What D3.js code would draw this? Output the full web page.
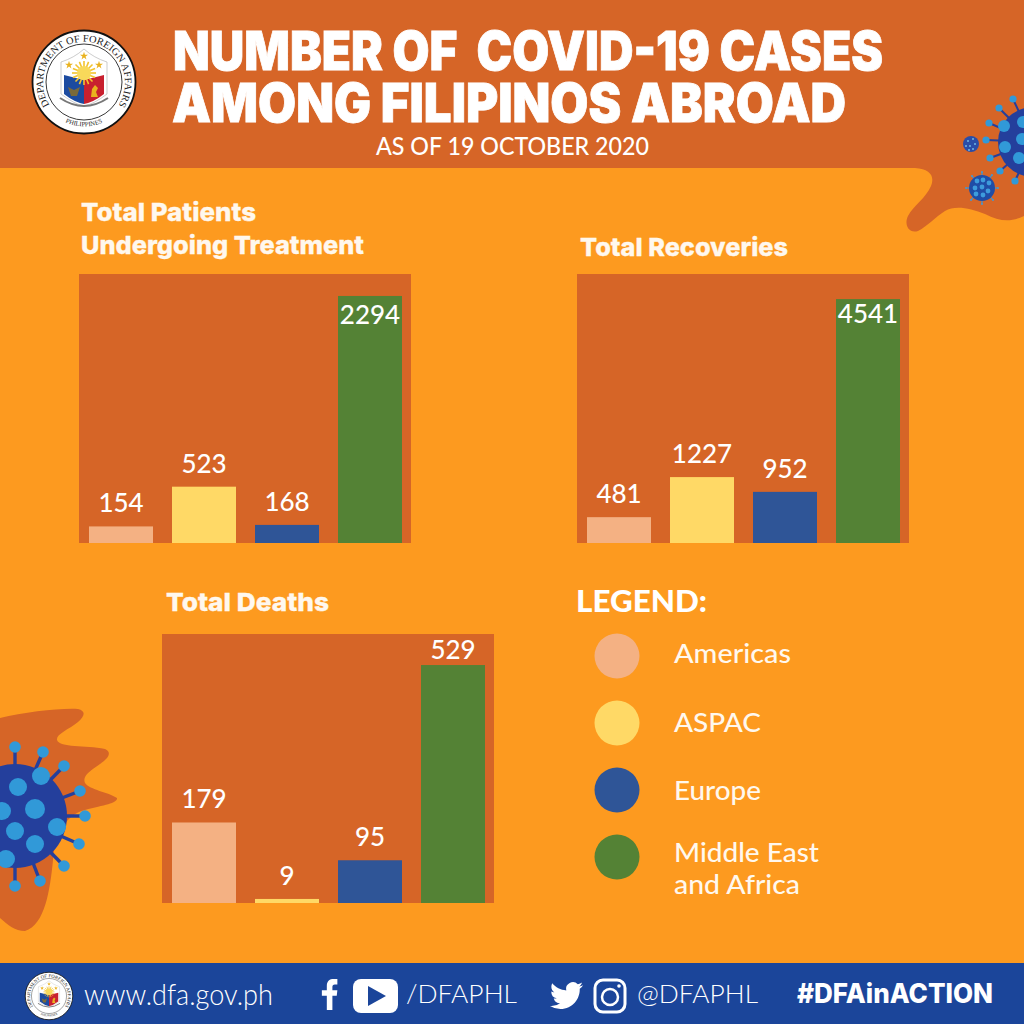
<!DOCTYPE html>
<html><head><meta charset="utf-8">
<script src="https://d3js.org/d3.v7.min.js"></script>
<style>html,body{margin:0;padding:0;background:#FD9A1F}svg{display:block}</style>
</head><body><svg id="c" width="1024" height="1024" viewBox="0 0 1024 1024"></svg>
<script>
const regions = ["Americas","ASPAC","Europe","Middle East and Africa"];
const colors = ["#F4B183","#FFD966","#2F5597","#548235"];
const patients = [154,523,168,2294];
const recoveries = [481,1227,952,4541];
const deaths = [179,9,95,529];
const mainTitle = ["NUMBER OF  COVID-19 CASES","AMONG FILIPINOS ABROAD"];
const subTitle = "AS OF 19 OCTOBER 2020";

const ORANGE="#D66527", BG="#FD9A1F", WHITE="#FFFFFF", BLUE="#1B459A";
const BODY="Lato, 'Open Sans', sans-serif", HEAVY="Inter, 'Liberation Sans', sans-serif";
const svg=d3.select("#c");
svg.append("rect").attr("width",1024).attr("height",1024).attr("fill",BG);

function fit(g,str,x,y,w,size,o={}){
  return g.append("text").attr("x",x).attr("y",y).text(str)
    .attr("font-family",o.family||BODY).attr("font-size",size).attr("font-weight",o.weight||400)
    .attr("fill",o.fill||WHITE).attr("textLength",w).attr("lengthAdjust","spacingAndGlyphs")
    .attr("stroke",o.stroke||null).attr("stroke-width",o.sw||null).style("white-space","pre");
}

svg.append("path").attr("fill",ORANGE).attr("d",
 "M0,0H1024V216C1012,222 1000,222 985,214C970,208 955,205 945,211C935,217 928,226 918,231C908,234 904,224 908,216C913,206 926,198 931,186C935,176 930,169 915,168H0Z");
svg.append("path").attr("fill",ORANGE).attr("d",
 "M0,718C25,712 60,708 78,709C86,711 85,716 78,722C68,730 56,734 57,740C60,748 85,745 105,749C112,752 109,758 100,764C90,771 82,776 85,783C90,790 108,792 117,798C118,803 105,805 85,810C65,815 55,835 53,860C50,890 45,925 25,931C15,931 8,925 0,918Z");

function virus(g,cx,cy,r,ends,endR,sw,dots,bodyFill,dotFill,stem){
  const v=g.append("g");
  v.selectAll("line").data(ends).join("line")
    .attr("x1",cx).attr("y1",cy).attr("x2",d=>d[0]).attr("y2",d=>d[1])
    .attr("stroke",stem||bodyFill).attr("stroke-width",sw);
  v.append("circle").attr("cx",cx).attr("cy",cy).attr("r",r).attr("fill",bodyFill);
  v.selectAll("circle.e").data(ends).join("circle").attr("class","e")
    .attr("cx",d=>d[0]).attr("cy",d=>d[1]).attr("r",endR).attr("fill",dotFill);
  v.selectAll("circle.d").data(dots).join("circle").attr("class","d")
    .attr("cx",d=>d[0]).attr("cy",d=>d[1]).attr("r",d=>d[2]).attr("fill",dotFill);
}
const VB="#243F9C", VL="#3199D8";
virus(svg,15,816,52,[[15,747],[43,752],[64,766],[80,791],[85,816],[79,844],[64,866],[40,881],[15,886]],5.8,3.4,
 [[41,776,9],[18,787,9],[35,809,10],[2,811,9],[57,827,9],[15,831,9],[35,844,9],[6,859,9]],VB,VL);
virus(svg,1033,142,35,[[1013,99],[999,108],[989,123],[986,140],[990,158],[1000,171],[1015,181]],3.6,2,
 [[1004,126,6],[1005,147,6],[1019,158,6],[1022,139,6],[1023,122,6]],VB,VL);
virus(svg,971,144,8,[],0,0,[[968,141,1],[973,139,1],[975,144,1],[970,146,1],[966,146,1],[973,149,1],[969,150,1]],"#2A4DA8","#6FB6E6");
virus(svg,982,188,13,[[982,172],[992,175],[998,188],[993,200],[982,204],[971,200],[966,188],[972,176]],.9,1.3,
 [[977,181,2.4],[983,180,2.4],[989,183,2.4],[975,188,2.4],[982,187,2.4],[988,191,2.4],[976,194,2.4],[983,195,2.4]],"#1F4DA6","#3D9CDC","#4A8FC4");

let sealId=0;
function seal(g,cx,cy,r){
  const s=g.append("g").attr("transform",`translate(${cx},${cy}) scale(${r/52})`);
  s.append("circle").attr("r",51.5).attr("fill","#fff").attr("stroke","#111").attr("stroke-width",1.8);
  s.append("circle").attr("r",38).attr("fill","none").attr("stroke","#222").attr("stroke-width",.9);
  const id="ring"+(sealId++);
  s.append("path").attr("id",id).attr("fill","none").attr("d","M-35,22A41,41 0 1 1 35,22");
  s.append("text").attr("font-family","'Liberation Serif',serif").attr("font-size",10).attr("fill","#222")
   .append("textPath").attr("href","#"+id).attr("startOffset","50%").attr("text-anchor","middle").attr("textLength",176).attr("lengthAdjust","spacingAndGlyphs").text("DEPARTMENT OF FOREIGN AFFAIRS");
  const id2="ring"+(sealId++);
  s.append("path").attr("id",id2).attr("fill","none").attr("d","M-32,31A45,45 0 0 0 32,31");
  s.append("text").attr("font-family","'Liberation Serif',serif").attr("font-size",6.5).attr("fill","#222")
   .append("textPath").attr("href","#"+id2).attr("startOffset","50%").attr("text-anchor","middle").text("PHILIPPINES");
  s.append("path").attr("fill","#fff").attr("stroke","#aaa").attr("stroke-width",.6).attr("d","M-23,-20Q-10,-24 0,-33Q10,-24 23,-20V12Q10,22 0,24Q-10,22 -23,12Z");
  s.append("path").attr("fill","#1C4BA0").attr("d","M-20,-7L0,-2V22Q-10,20 -20,12Z");
  s.append("path").attr("fill","#C8202F").attr("d","M20,-7L0,-2V22Q10,20 20,12Z");
  d3.range(16).forEach(i=>s.append("line").attr("transform",`translate(0,-9) rotate(${i*22.5})`).attr("y1",-6).attr("y2",-12).attr("stroke","#F3C32E").attr("stroke-width",1.6));
  s.append("circle").attr("cy",-9).attr("r",7).attr("fill","#F8D95A");
  [[0,-26],[-15,-17],[15,-17]].forEach(p=>s.append("path").attr("transform",`translate(${p[0]},${p[1]})`).attr("fill","#E9B21E").attr("d",d3.symbol(d3.symbolStar,20)()));
  s.append("path").attr("transform","translate(-10,9)").attr("fill","#7a6a3a").attr("d","M-6,-4L0,-1L6,-4L3,5H-3Z");
  s.append("path").attr("transform","translate(10,9)").attr("fill","#E9B21E").attr("d","M-3,6L-2,-2L1,-6L4,-3L2,1L4,6Z");
  s.append("path").attr("fill","none").attr("stroke","#777").attr("stroke-width",2).attr("d","M-24,16Q0,32 24,16");
}
seal(svg,84,82,52);

fit(svg,mainTitle[0],173,70,710,53,{family:HEAVY,weight:900,stroke:WHITE,sw:.8});
fit(svg,mainTitle[1],172,122,674,53,{family:HEAVY,weight:900,stroke:WHITE,sw:.8});
fit(svg,subTitle,376,155,273,24,{weight:500});

const BAR_W=332, BAR_H=269;
function panel(values,maxV,x0,y0,maxLabelGap){
  const g=svg.append("g").attr("transform",`translate(${x0},${y0})`);
  g.append("rect").attr("width",BAR_W).attr("height",BAR_H).attr("fill",ORANGE);
  const x=d3.scaleBand().domain(regions).range([.5,BAR_W+.5]).paddingInner(.229).paddingOuter(.1145);
  const y=d3.scaleLinear().domain([0,maxV]).range([BAR_H,0]);
  const rows=regions.map((r,i)=>({r,v:values[i],c:colors[i]}));
  const top=d3.max(values);
  g.selectAll("rect.b").data(rows).join("rect").attr("class","b")
    .attr("x",d=>x(d.r)).attr("width",x.bandwidth()).attr("y",d=>y(d.v)).attr("height",d=>BAR_H-y(d.v)).attr("fill",d=>d.c);
  g.selectAll("text.v").data(rows).join("text").attr("class","v")
    .attr("x",d=>x(d.r)+x.bandwidth()/2).attr("y",d=>y(d.v)+(d.v===top?maxLabelGap:-14))
    .attr("text-anchor","middle").attr("font-family",BODY).attr("font-size",26).attr("font-weight",500).attr("fill",WHITE)
    .text(d=>d.v);
}
panel(patients,2498,79,274,28);
panel(recoveries,5008,577,274,24);
panel(deaths,598,162,634,-6);

const H={family:HEAVY,weight:800,fill:"#FFF8EE",stroke:"#FFF8EE",sw:.3};
fit(svg,"Total Patients",81,221,175,25,H);
fit(svg,"Undergoing Treatment",81,254,283,25,H);
fit(svg,"Total Recoveries",580,256,208,25,H);
fit(svg,"Total Deaths",166,611,163,25,H);

fit(svg,"LEGEND:",576,612,131,30,{weight:900});
const legY=d3.scalePoint().domain(regions).range([656,857]);
svg.selectAll("circle.l").data(regions).join("circle").attr("class","l")
  .attr("cx",617).attr("cy",d=>legY(d)).attr("r",22.5).attr("fill",(d,i)=>colors[i]);
const T={weight:500,fill:"#FFF8EE"};
fit(svg,"Americas",674,663,117,27,T);
fit(svg,"ASPAC",674,732,87,27,T);
fit(svg,"Europe",674,800,87,27,T);
fit(svg,"Middle East",674,862,145,27,T);
fit(svg,"and Africa",674,894,126,27,T);

svg.append("rect").attr("y",963).attr("width",1024).attr("height",61).attr("fill",BLUE);
seal(svg,49,996,24);
fit(svg,"www.dfa.gov.ph",84,1005,189,29,{weight:300});
svg.append("path").attr("fill","#fff").attr("transform","translate(320,979) scale(.62)")
  .attr("d","M11,50V27H3V18H11V11C11,3 16,0 22,0H28V9H24C21,9 20,11 20,13V18H28L27,27H20V50Z");
svg.append("rect").attr("x",353).attr("y",979).attr("width",45).attr("height",34).attr("rx",8).attr("fill","#fff");
svg.append("path").attr("fill",BLUE).attr("d","M368,986L386,996L368,1006Z");
fit(svg,"/DFAPHL",406,1003,111,26,{weight:300});
svg.append("path").attr("fill","#fff").attr("transform","translate(550,979) scale(1.38)")
  .attr("d","M23.953 4.57a10 10 0 01-2.825.775 4.958 4.958 0 002.163-2.723c-.951.555-2.005.959-3.127 1.184a4.92 4.92 0 00-8.384 4.482C7.69 8.095 4.067 6.13 1.64 3.162a4.822 4.822 0 00-.666 2.475c0 1.71.87 3.213 2.188 4.096a4.904 4.904 0 01-2.228-.616v.06a4.923 4.923 0 003.946 4.827 4.996 4.996 0 01-2.212.085 4.936 4.936 0 004.604 3.417 9.867 9.867 0 01-6.102 2.105c-.39 0-.779-.023-1.17-.067a13.995 13.995 0 007.557 2.209c9.053 0 13.998-7.496 13.998-13.985 0-.21 0-.42-.015-.63A9.935 9.935 0 0024 4.59z");
svg.append("rect").attr("x",595).attr("y",980).attr("width",30).attr("height",32).attr("rx",8).attr("fill","none").attr("stroke","#fff").attr("stroke-width",3);
svg.append("circle").attr("cx",610).attr("cy",997).attr("r",8).attr("fill","none").attr("stroke","#fff").attr("stroke-width",2.5);
svg.append("circle").attr("cx",619).attr("cy",986).attr("r",1.8).attr("fill","#fff");
fit(svg,"@DFAPHL",637,1003,121,26,{weight:300});
fit(svg,"#DFAinACTION",797,1003,196,27,{family:HEAVY,weight:800});
</script></body></html>
